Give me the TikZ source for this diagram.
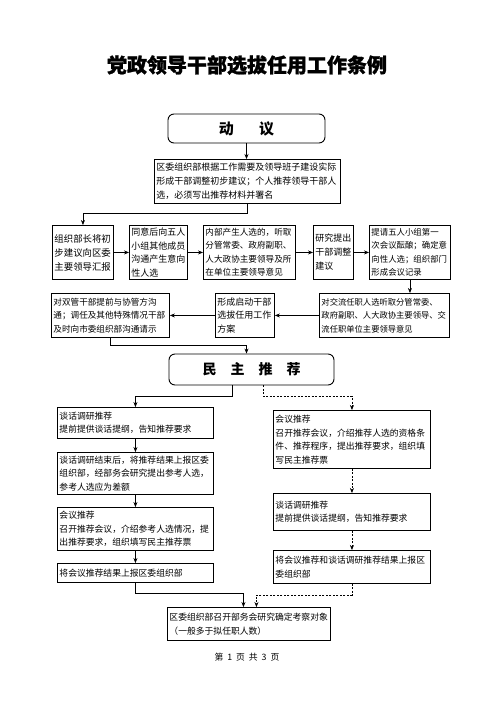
\documentclass[tikz,border=0pt]{standalone}
\usepackage{fontspec}
\setmainfont{Noto Sans CJK SC}
\usetikzlibrary{arrows.meta}

\begin{document}
\begin{tikzpicture}[x=1pt,y=-1pt,
  box/.style={draw,line width=0.9pt,inner sep=2pt,anchor=north west,align=left,font=\fontsize{8.8}{13.5}\selectfont},
  head/.style={draw,line width=0.9pt,rounded corners=6pt,inner sep=0pt,font=\bfseries\fontsize{15}{15}\selectfont},
  arr/.style={-{Stealth[length=5pt,width=4pt]},line width=0.6pt},
  darr/.style={arr,dash pattern=on 2pt off 1.5pt}]
\path[use as bounding box] (0,0) rectangle (496,702);
\node[font=\bfseries\fontsize{20}{20}\selectfont\addfontfeatures{FakeBold=1.2}] (title) at (247,65) {党政领导干部选拔任用工作条例};
% 动议
\node[head,minimum width=157pt,minimum height=29pt] (dongyi) at (246.5,128.5) {动\hspace{1.7em}议};
\node[box,text width=182pt,minimum height=44pt,font=\fontsize{9}{14}\selectfont] (chubu) at (154,159) {区委组织部根据工作需要及领导班子建设实际\\形成干部调整初步建议；个人推荐领导干部人\\选，必须写出推荐材料并署名};
\node[box,text width=57pt,minimum height=54pt,font=\fontsize{9.4}{14}\selectfont] (huibao) at (52,225) {组织部长将初\\步建议向区委\\主要领导汇报};
\node[box,text width=54pt,minimum height=54pt,font=\fontsize{9}{13.5}\selectfont] (goutong) at (129,225) {同意后向五人\\小组其他成员\\沟通产生意向\\性人选};
\node[box,text width=88pt,minimum height=54pt,font=\fontsize{8.6}{13.5}\selectfont] (tingqu) at (203,225) {内部产生人选的，听取\\分管常委、政府副职、\\人大政协主要领导及所\\在单位主要领导意见};
\node[box,text width=36pt,minimum height=54pt,font=\fontsize{9}{14}\selectfont] (yanjiu) at (313,225) {研究提出\\干部调整\\建议};
\node[box,text width=77pt,minimum height=54pt,font=\fontsize{8.4}{13.5}\selectfont] (yunniang) at (369,225) {提请五人小组第一\\次会议酝酿；确定意\\向性人选；组织部门\\形成会议记录};
\node[box,text width=114pt,minimum height=44pt,font=\fontsize{8.6}{13.5}\selectfont] (qingshi) at (51,293) {对双管干部提前与协管方沟\\通；调任及其他特殊情况干部\\及时向市委组织部沟通请示};
\node[box,text width=55pt,minimum height=44pt,font=\fontsize{9}{13.5}\selectfont] (fangan) at (215,293) {形成启动干部\\选拔任用工作\\方案};
\node[box,text width=126pt,minimum height=44pt,font=\fontsize{8.3}{13.5}\selectfont] (jiaoliu) at (319,293) {对交流任职人选听取分管常委、\\政府副职、人大政协主要领导、交\\流任职单位主要领导意见};
% 民主推荐
\node[head,minimum width=165pt,minimum height=31pt,font=\bfseries\fontsize{14}{14}\selectfont] (minzhu) at (251.5,369.5) {民\hspace{1em}主\hspace{1em}推\hspace{1em}荐};
\node[box,text width=152pt,minimum height=31pt] (tanhua) at (57,407) {谈话调研推荐\\提前提供谈话提纲，告知推荐要求};
\node[box,text width=152pt,minimum height=42pt] (cankao) at (57,452) {谈话调研结束后，将推荐结果上报区委\\组织部，经部务会研究提出参考人选，\\参考人选应为差额};
\node[box,text width=152pt,minimum height=43pt] (huiyi) at (57,507) {会议推荐\\召开推荐会议，介绍参考人选情况，提\\出推荐要求，组织填写民主推荐票};
\node[box,text width=152pt,minimum height=19pt] (shangbao) at (57,563) {将会议推荐结果上报区委组织部};
\node[box,text width=153pt,minimum height=58pt] (huiyiR) at (273,410) {会议推荐\\召开推荐会议，介绍推荐人选的资格条\\件、推荐程序，提出推荐要求，组织填\\写民主推荐票};
\node[box,text width=153pt,minimum height=37pt] (tanhuaR) at (273,493) {谈话调研推荐\\提前提供谈话提纲，告知推荐要求};
\node[box,text width=153pt,minimum height=33pt] (shangbaoR) at (273,550) {将会议推荐和谈话调研推荐结果上报区\\委组织部};
\node[box,text width=159pt,minimum height=33pt] (queding) at (167,607) {区委组织部召开部务会研究确定考察对象\\（一般多于拟任职人数）};
\node[font=\fontsize{8.8}{10}\selectfont] (page) at (247,657) {第\hspace{0.45em}1\hspace{0.45em}页\hspace{0.45em}共\hspace{0.45em}3\hspace{0.45em}页};
% connectors
\draw[arr] (dongyi.south) -- (dongyi.south |- chubu.north);
\draw[arr] (chubu.south) -- ++(0,9) -| (huibao.north);
\draw[arr] (huibao.east) -- (goutong.west);
\draw[arr] (goutong.east) -- (tingqu.west);
\draw[arr] (tingqu.east) -- (yanjiu.west);
\draw[arr] (yanjiu.east) -- (yunniang.west);
\draw[arr] (yunniang.south) -- (yunniang.south |- jiaoliu.north);
\draw[arr] (jiaoliu.west) -- (fangan.east);
\draw[arr] (fangan.west) -- (qingshi.east);
\draw[arr] (qingshi.south) -- ++(0,7) -| ([xshift=-5pt]minzhu.north);
\draw[arr] ([xshift=-19.5pt]minzhu.south) -- ++(0,11) -| (tanhua.north);
\draw[darr] ([xshift=11.5pt]minzhu.south) -- ++(0,11) -| (huiyiR.north);
\draw[arr] (tanhua) -- (cankao);
\draw[arr] (cankao) -- (huiyi);
\draw[arr] (huiyi) -- (shangbao);
\draw[darr] (huiyiR) -- (tanhuaR);
\draw[darr] (tanhuaR) -- (shangbaoR);
\draw[arr] (shangbao.south) -- ++(0,10) -| ([xshift=-5.5pt]queding.north);
\draw[darr] (shangbaoR.south) -- ++(0,11) -| ([xshift=7.5pt]queding.north);
\end{tikzpicture}
\end{document}
